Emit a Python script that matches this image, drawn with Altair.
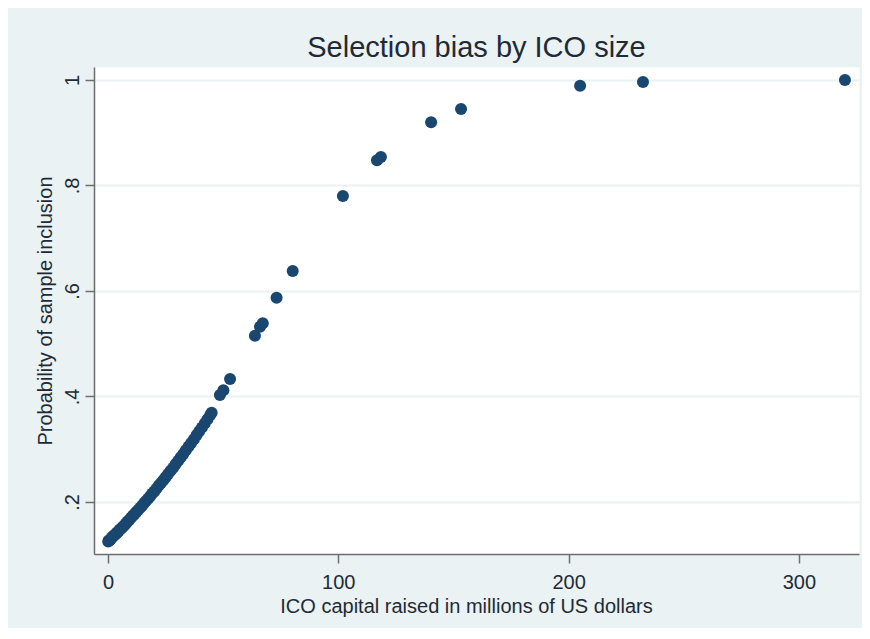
import altair as alt
import pandas as pd

# ICO capital raised (millions USD) and estimated probability of sample inclusion
capital = [
    0.1, 0.4, 0.8, 1.2, 1.6, 2.0, 2.5, 3.0, 3.5, 4.0, 4.6, 5.2, 5.8, 6.5, 7.1,
    7.8, 8.5, 9.2, 10.0, 10.8, 11.5, 12.3, 13.1, 14.0, 14.8, 15.7, 16.5, 17.4,
    18.3, 19.2, 20.1, 21.0, 22.0, 23.0, 24.0, 25.0, 26.1, 27.2, 28.3, 29.4,
    30.5, 31.6, 32.7, 33.8, 35.0, 36.1, 37.3, 38.5, 39.6, 40.8, 42.0, 43.2,
    44.4, 45.0,
    48.6, 50.1, 53.0, 63.8, 66.0, 67.2, 73.2, 80.2, 102.0, 116.8, 118.5,
    140.3, 153.3, 205.0, 232.3, 320.0,
]
prob = [
    0.125, 0.127, 0.128, 0.130, 0.132, 0.134, 0.136, 0.138, 0.140, 0.142,
    0.145, 0.148, 0.150, 0.153, 0.156, 0.159, 0.163, 0.166, 0.170, 0.174,
    0.177, 0.181, 0.185, 0.189, 0.193, 0.198, 0.202, 0.206, 0.211, 0.216,
    0.220, 0.225, 0.231, 0.236, 0.241, 0.247, 0.253, 0.259, 0.265, 0.272,
    0.278, 0.285, 0.291, 0.298, 0.305, 0.312, 0.319, 0.327, 0.334, 0.341,
    0.349, 0.357, 0.365, 0.369,
    0.403, 0.412, 0.433, 0.515, 0.532, 0.539, 0.587, 0.638, 0.780, 0.848,
    0.854, 0.920, 0.945, 0.989, 0.996, 1.000,
]

x_ticks = [0, 100, 200, 300]
y_ticks = [0.2, 0.4, 0.6, 0.8, 1.0]

df = pd.DataFrame({"capital": capital, "prob": prob})

FONT = "Liberation Sans"
TEXT = "#1f2a36"
BG = "#EAF2F3"
AXIS = "#6e6e6e"

chart = (
    alt.Chart(df)
    .mark_circle(size=145, color="#1A476F", opacity=1)
    .encode(
        x=alt.X(
            "capital:Q",
            scale=alt.Scale(domain=[-6.08, 326.1], nice=False, zero=False),
            axis=alt.Axis(
                values=x_ticks,
                grid=False,
                title="ICO capital raised in millions of US dollars",
                tickSize=9,
                labelBaseline="alphabetic",
                labelPadding=25,
                labelFontSize=20,
                titleFontSize=20,
                titleX=372,
                titleY=58,
                titleAlign="center",
                titleBaseline="alphabetic",
            ),
        ),
        y=alt.Y(
            "prob:Q",
            scale=alt.Scale(domain=[0.1014, 1.0246], nice=False, zero=False),
            axis=alt.Axis(
                values=y_ticks,
                grid=True,
                gridColor=BG,
                gridWidth=2,
                title="Probability of sample inclusion",
                tickSize=9,
                labelAngle=270,
                labelAlign="center",
                labelBaseline="alphabetic",
                labelPadding=7,
                labelFontSize=20,
                labelExpr="datum.value >= 0.999 ? '1' : replace(format(datum.value, '.1f'), '0.', '.')",
                titleFontSize=20,
                titleAngle=270,
                titleX=-43,
                titleY=243.5,
                titleAlign="center",
                titleBaseline="alphabetic",
            ),
        ),
    )
    .properties(
        width=765,
        height=487,
        background=BG,
        padding={"left": 86, "top": 59, "right": 3, "bottom": 74},
        autosize=alt.AutoSizeParams(type="none"),
        title=alt.TitleParams(
            text="Selection bias by ICO size",
            fontSize=29,
            font=FONT,
            fontWeight="normal",
            color=TEXT,
            anchor="middle",
            frame="group",
            baseline="alphabetic",
            offset=10,
            dy=29,
        ),
    )
    .configure_view(fill="white", stroke="transparent")
    .configure_axis(
        domainColor=AXIS,
        domainWidth=1.5,
        tickColor=AXIS,
        tickWidth=1.5,
        labelFont=FONT,
        titleFont=FONT,
        labelColor=TEXT,
        titleColor=TEXT,
        titleFontWeight="normal",
    )
)

chart.save("out.html", embed_options={"renderer": "svg", "actions": False})
